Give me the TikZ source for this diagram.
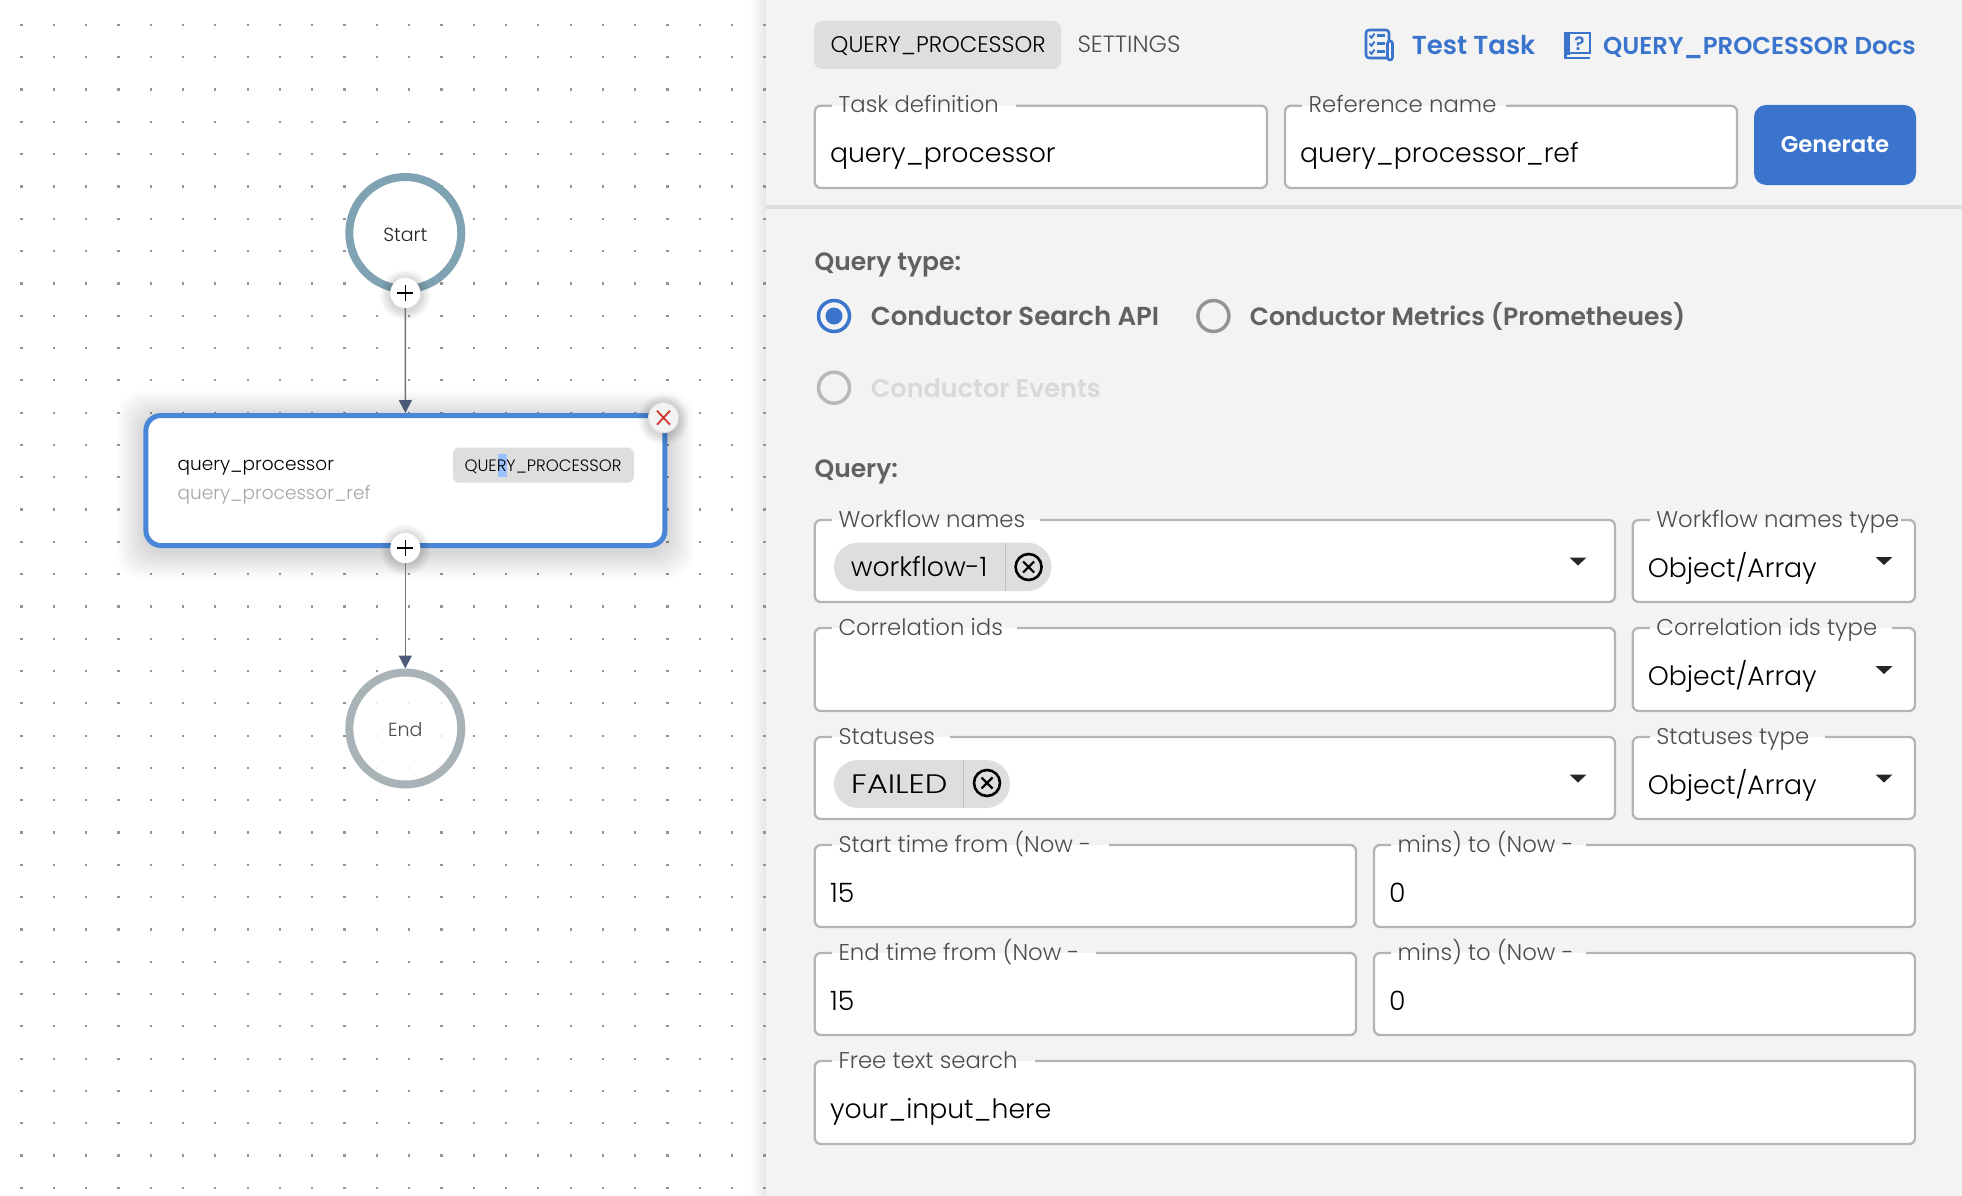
\documentclass[tikz,border=0pt]{standalone}
\usepackage{fontspec}
\setmainfont{Poppins}
\newfontfamily\lightfont{Poppins Light}
\newfontfamily\medfont{Poppins SemiBold}
\usetikzlibrary{arrows.meta}
\definecolor{panelgray}{HTML}{F3F3F3}
\definecolor{chipgray}{HTML}{DEDEDE}
\definecolor{linegray}{HTML}{B4B4B4}
\definecolor{linkblue}{HTML}{3A74CC}
\definecolor{tipslate}{HTML}{4A5A78}
\definecolor{startblue}{HTML}{7FA3B3}
\definecolor{stopgray}{HTML}{A9B2B6}
\definecolor{taskblue}{HTML}{4A86D8}
\definecolor{closered}{HTML}{D0352B}
\tikzset{
	txt/.style={inner sep=0pt,anchor=base west},
	fieldbox/.style={draw=linegray,line width=2.3pt,rounded corners=6pt,fill=white},
	plusbtn/.style={circle,fill=white,minimum size=30pt,inner sep=0pt},
	flowline/.style={draw=black!55,line width=1.6pt,-{Triangle[length=13pt,width=13pt,color=tipslate]}},
	radiobtn/.style={circle,draw=#1,line width=3.5pt,minimum size=31pt,inner sep=0pt},
	caret/.style={fill=black!85},
}
\newcommand{\labelfont}{\lightfont\fontsize{22.8}{28}\selectfont}
\newcommand{\valuefont}{\lightfont\fontsize{26.7}{32}\selectfont}
\newcommand{\headfont}{\medfont\fontsize{25}{30}\selectfont}
% outlined input with its caption
\newcommand{\formfield}[8]{
	\draw [fieldbox] (#2,#3) rectangle (#4,#5);
	\fill [panelgray] (#2+17,#3-2) rectangle (#7,#3);
	\fill [white] (#2+17,#3) rectangle (#7,#3+2);
	\node (#1label) [txt,text=black!70] at (#2+23.5,#3+7) {\labelfont #6};
	\node (#1value) [txt] at (#2+15,#3+57) {\valuefont #8};
}
% small dropdown arrow
\newcommand{\caretat}[2]{\fill [caret] (#1-8.5,#2-4) -- (#1+8.5,#2-4) -- (#1,#2+4) -- cycle;}
% chip with a cancel mark
\newcommand{\cancelmark}[3]{
	\node (#1) [circle,draw=black,line width=2.6pt,minimum size=26pt,inner sep=0pt] at (#2,#3) {};
	\draw [line width=2.2pt] (#2-5.5,#3-5.5) -- (#2+5.5,#3+5.5) (#2-5.5,#3+5.5) -- (#2+5.5,#3-5.5);
}
% soft shadow under a round button
\newcommand{\softring}[3]{
	\foreach \s in {2,4,...,10}
		\fill [black,opacity=0.03] (#1,#2+2) circle (#3+\s);
}
\begin{document}
\begin{tikzpicture}[x=1pt,y=-1pt]
	\useasboundingbox (0,0) rectangle (1962,1196);
	\fill [white] (0,0) rectangle (1962,1196);
	\shade [left color=white,right color=black!10] (750,0) rectangle (766,1196);
	% canvas dots
	\foreach \i in {0,...,23}
		\foreach \j in {0,...,36}
			\fill [black!42] (21.5+32.3*\i-1.1,25+32.3*\j-1.1) rectangle ++(2.2,2.2);
	% flow nodes
	\foreach \s in {26,24,...,2}
		\fill [black,opacity=0.013,rounded corners=24pt] (143.5-\s,413-\s+4) rectangle (667.5+\s,548+\s+4);
	\node (start) [circle,draw=startblue,line width=8pt,fill=white,minimum size=112pt,inner sep=0pt,font=\lightfont\fontsize{19}{24}\selectfont,text=black!85] at (405.3,233) {\raisebox{-8pt}[0pt][0pt]{Start}};
	\node (task) [draw=taskblue,line width=5pt,fill=white,rounded corners=15pt,minimum width=519pt,minimum height=130pt,inner sep=0pt] at (405.4,480.5) {};
	\node (stop) [circle,draw=stopgray,line width=8pt,fill=white,fill opacity=0.85,text opacity=1,minimum size=112pt,inner sep=0pt,font=\lightfont\fontsize{19}{24}\selectfont,text=black!70] at (405.3,728.5) {\raisebox{-7.5pt}[0pt][0pt]{End}};
	\node (taskname) [txt] at (177.5,470) {\lightfont\fontsize{18.5}{24}\selectfont query\_processor};
	\node (taskref) [txt,text=black!35] at (177.5,499) {\lightfont\fontsize{18.5}{24}\selectfont query\_processor\_ref};
	\fill [chipgray,rounded corners=6pt] (453,447.7) rectangle (633.8,482.7);
	\fill [blue!60!cyan!40!white] (498,454) rectangle (507,476.7);
	\node (tasktype) [inner sep=0pt,anchor=base] at (543,471) {\lightfont\fontsize{16.5}{20}\selectfont QUERY\_PROCESSOR};
	\softring{405.3}{293}{15}
	\softring{405.3}{548}{15}
	\node (addone) [plusbtn] at (405.3,293) {};
	\node (addtwo) [plusbtn] at (405.3,548) {};
	\draw [line width=1.5pt] (405.3-8,293) -- (405.3+8,293) (405.3,293-8) -- (405.3,293+8);
	\draw [line width=1.5pt] (405.3-8,548) -- (405.3+8,548) (405.3,548-8) -- (405.3,548+8);
	\draw [flowline] (addone) -- (task.north);
	\draw [flowline] (addtwo) -- (stop.north);
	\softring{663.5}{417.7}{15}
	\node (remove) [circle,draw=black!12,line width=1pt,fill=panelgray,minimum size=30pt,inner sep=0pt] at (663.5,417.7) {};
	\draw [draw=closered,line width=1.8pt] (663.5-6.5,417.7-7) -- (663.5+6.5,417.7+7) (663.5-6.5,417.7+7) -- (663.5+6.5,417.7-7);
	% side panel
	\fill [panelgray] (766,0) rectangle (1962,1196);
	\fill [chipgray] (766,205) rectangle (1962,209);
	% header
	\fill [chipgray,rounded corners=8pt] (814,21) rectangle (1061,69);
	\node (tabquery) [txt] at (830.5,52.5) {\lightfont\fontsize{22.6}{28}\selectfont QUERY\_PROCESSOR};
	\node (tabsettings) [txt,text=black!70] at (1077.3,52.5) {\lightfont\fontsize{23.5}{28}\selectfont SETTINGS};
	\draw [linkblue,line width=2.6pt,rounded corners=3pt] (1366,30) rectangle (1389,58);
	\draw [linkblue,line width=2.6pt,fill=panelgray,rounded corners=2.5pt] (1387.5,41) rectangle (1392.5,60);
	\foreach \y in {35.7,43.7,51.7} {
		\draw [linkblue,line width=2pt] (1369.5,\y) -- (1371.5,\y+2) -- (1374.5,\y-2);
		\draw [linkblue,line width=2.4pt] (1377,\y) -- (1385,\y);
	}
	\node (testtask) [txt,text=linkblue] at (1411.7,55) {\medfont\fontsize{26}{30}\selectfont Test Task};
	\draw [linkblue,line width=2.4pt] (1565.5,33) rectangle (1590,53) (1565.5,53) -- (1565.5,58) -- (1590,58);
	\fill [linkblue] (1564.3,32) rectangle (1570,55);
	\node (bookmark) [inner sep=0pt,text=linkblue] at (1579.5,43.5) {\medfont\fontsize{19}{20}\selectfont ?};
	\node (docs) [txt,text=linkblue] at (1603,54.5) {\medfont\fontsize{24.4}{28}\selectfont QUERY\_PROCESSOR Docs};
	\formfield{taskdef}{814.8}{105.7}{1267}{188}{Task definition}{1016}{query\_processor}
	\formfield{refname}{1285}{105.7}{1737}{188}{Reference name}{1506}{query\_processor\_ref}
	\node (generate) [fill=linkblue,text=white,rounded corners=12pt,minimum width=162pt,minimum height=80pt,inner sep=0pt,font=\medfont\fontsize{22.8}{26}\selectfont] at (1835,145) {\raisebox{-7.5pt}[0pt][0pt]{Generate}};
	% query type
	\node (qtype) [txt,text=black!62] at (814.4,270) {\headfont Query type:};
	\node (radioa) [radiobtn=linkblue] at (834,316) {};
	\node (radioadot) [circle,fill=linkblue,minimum size=17pt,inner sep=0pt] at (834,316) {};
	\node (radiob) [radiobtn=black!42] at (1213.4,316) {};
	\node (radioc) [radiobtn=black!28] at (834,387.7) {};
	\node (opta) [txt,text=black!62] at (870.7,325.5) {\medfont\fontsize{26}{30}\selectfont Conductor Search API};
	\node (optb) [txt,text=black!62] at (1249.6,325.5) {\headfont Conductor Metrics (Prometheues)};
	\node (optc) [txt,text=black!15] at (870.7,397.5) {\medfont\fontsize{25.5}{30}\selectfont Conductor Events};
	\node (qhead) [txt,text=black!62] at (814.4,477.5) {\headfont Query:};
	% form rows
	\formfield{wfnames}{814.8}{520}{1615}{602}{Workflow names}{1040}{}
	\formfield{wftype}{1632.7}{520}{1915}{602}{Workflow names type}{1901}{Object/Array}
	\formfield{corrids}{814.8}{628}{1615}{711}{Correlation ids}{1017}{}
	\formfield{corrtype}{1632.7}{628}{1915}{711}{Correlation ids type}{1892}{Object/Array}
	\formfield{statuses}{814.8}{737}{1615}{819}{Statuses}{950}{}
	\formfield{stattype}{1632.7}{737}{1915}{819}{Statuses type}{1825}{Object/Array}
	\formfield{startfrom}{814.8}{845}{1356}{927}{Start time from (Now -}{1109}{15}
	\formfield{startto}{1374}{845}{1915}{927}{mins) to (Now -}{1586}{0}
	\formfield{endfrom}{814.8}{953}{1356}{1035}{End time from (Now -}{1096}{15}
	\formfield{endto}{1374}{953}{1915}{1035}{mins) to (Now -}{1586}{0}
	\formfield{freetext}{814.8}{1061}{1915}{1144}{Free text search}{1035}{your\_input\_here}
	% chips
	\fill [chipgray,rounded corners=24pt] (834,542.7) rectangle (1051.5,591);
	\draw [black!25,line width=1pt] (1005,542.7) -- (1005,591);
	\node (wfchip) [txt] at (850.6,576.7) {\valuefont workflow-1};
	\cancelmark{wfcancel}{1028.6}{567}
	\fill [chipgray,rounded corners=24pt] (834,760) rectangle (1010,808);
	\draw [black!25,line width=1pt] (963,760) -- (963,808);
	\node (statchip) [txt] at (851,793.2) {\scalebox{1.2}[1]{\valuefont FAILED}};
	\cancelmark{statcancel}{987}{783}
	% carets
	\caretat{1578}{561.5}
	\caretat{1884}{561}
	\caretat{1884}{670}
	\caretat{1578}{778.5}
	\caretat{1884}{778.5}
\end{tikzpicture}
\end{document}
